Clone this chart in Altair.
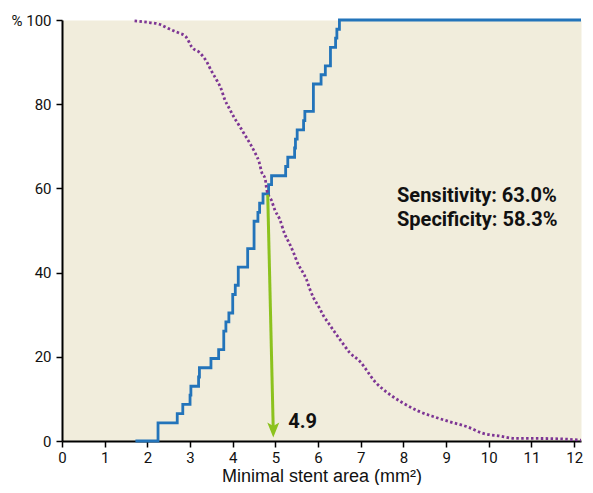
import altair as alt
import pandas as pd

# Sensitivity (blue step curve): x = cutoff (mm2), y = %
sens_x = [1.72, 2.25, 2.70, 2.83, 3.00, 3.02, 3.20, 3.22, 3.49, 3.67, 3.79, 3.84, 3.91,
          4.00, 4.06, 4.13, 4.35, 4.50, 4.59, 4.63, 4.71, 4.84, 4.91, 5.24, 5.29, 5.45,
          5.47, 5.51, 5.66, 5.69, 5.89, 6.07, 6.17, 6.29, 6.41, 6.44, 6.50, 12.16]
sens_y = [0.0, 4.3, 6.5, 8.7, 10.9, 13.0, 15.2, 17.4, 19.6, 21.7, 26.1, 28.3, 30.4,
          34.8, 37.0, 41.3, 45.7, 52.2, 54.3, 56.5, 58.7, 60.9, 63.0, 65.2, 67.4, 69.6,
          71.7, 73.9, 76.1, 78.3, 84.8, 87.0, 89.1, 93.5, 95.7, 97.8, 100.0, 100.0]

# Specificity (purple dotted curve)
spec_x = [1.70, 2.05, 2.28, 2.51, 2.74, 2.89, 2.97, 3.04, 3.23, 3.39, 3.50, 3.62, 3.73,
          3.81, 3.92, 4.03, 4.16, 4.29, 4.42, 4.53, 4.62, 4.68, 4.76, 4.80, 4.91, 4.99,
          5.10, 5.22, 5.33, 5.43, 5.52, 5.64, 5.73, 5.81, 5.90, 6.02, 6.13, 6.25, 6.40,
          6.57, 6.74, 6.97, 7.35, 7.66, 7.96, 8.35, 8.73, 9.11, 9.49, 9.87, 10.25, 10.63,
          11.17, 11.70, 12.16]
spec_y = [99.8, 99.4, 99.0, 97.9, 96.9, 96.2, 94.9, 93.6, 92.2, 90.1, 87.9, 85.8, 83.6,
          81.2, 79.0, 76.9, 74.8, 72.6, 70.4, 68.3, 66.2, 63.8, 62.3, 59.5, 57.1, 54.8,
          52.7, 49.1, 46.9, 44.6, 42.3, 40.1, 38.3, 36.0, 33.9, 31.8, 29.7, 27.9, 25.7,
          23.3, 21.0, 19.0, 13.9, 11.2, 9.2, 7.1, 5.7, 4.5, 3.4, 1.8, 1.2, 0.6,
          0.6, 0.5, 0.2]

# Cutoff arrow
arrow_x = [4.82, 4.95]
arrow_y = [58.5, 2.6]

x_ticks = list(range(0, 13))
y_ticks = [0, 20, 40, 60, 80, 100]

labels_text = ["Sensitivity: 63.0%", "Specificity: 58.3%"]
labels_x = [7.85, 7.85]
labels_y = [58.2, 52.4]

cut_label = ["4.9"]
cut_label_x = [5.3]
cut_label_y = [4.6]

LABEL_FONT = "Roboto"

sens_df = pd.DataFrame({"x": sens_x, "y": sens_y})
spec_df = pd.DataFrame({"x": spec_x, "y": spec_y})
arrow_df = pd.DataFrame({"x": arrow_x, "y": arrow_y})
head_df = pd.DataFrame({"x": [arrow_x[-1]], "y": [arrow_y[-1]]})
lab_df = pd.DataFrame({"x": labels_x, "y": labels_y, "t": labels_text})
cut_df = pd.DataFrame({"x": cut_label_x, "y": cut_label_y, "t": cut_label})

xscale = alt.Scale(domain=[0, 12.16], nice=False, zero=False)
yscale = alt.Scale(domain=[0, 100], nice=False)

xenc = alt.X("x:Q", scale=xscale, axis=alt.Axis(
    values=x_ticks, title="Minimal stent area (mm²)", grid=False,
    domainColor="black", domainWidth=2, tickColor="black", tickWidth=1.5, tickSize=6,
    labelFont=LABEL_FONT, labelFontSize=15, labelColor="#111", labelPadding=3,
    labelFlush=False, labelOverlap=False,
    titleFont="Liberation Sans", titleFontSize=18, titleFontWeight="normal",
    titleColor="#111", titlePadding=2))
yenc = alt.Y("y:Q", scale=yscale, axis=alt.Axis(
    values=y_ticks, title=None, grid=False,
    domainColor="black", domainWidth=2, tickColor="black", tickWidth=1.5, tickSize=6,
    labelFont=LABEL_FONT, labelFontSize=15, labelColor="#111", labelPadding=5,
    labelFlush=False,
    labelExpr="datum.value == 100 ? '% 100' : datum.label"))

sens = alt.Chart(sens_df).mark_line(
    interpolate="step-after", color="#2374BA", strokeWidth=2.8
).encode(x=xenc, y=yenc)

spec = alt.Chart(spec_df).mark_line(
    interpolate="monotone", color="#7D3594", strokeWidth=2.8, strokeDash=[2.5, 2.4]
).encode(x="x:Q", y="y:Q")

arrow = alt.Chart(arrow_df).mark_line(color="#8CC21E", strokeWidth=3).encode(x="x:Q", y="y:Q")
head = alt.Chart(head_df).mark_point(
    shape="M -0.8 -1 L 0 1 L 0.8 -1 L 0 -0.55 Z", filled=True, size=225,
    color="#8CC21E", opacity=1
).encode(x="x:Q", y="y:Q")

labs = alt.Chart(lab_df).mark_text(
    align="left", baseline="middle", font=LABEL_FONT, fontSize=20, fontWeight="bold",
    color="#111"
).encode(x="x:Q", y="y:Q", text="t:N")

cut = alt.Chart(cut_df).mark_text(
    align="left", baseline="middle", font=LABEL_FONT, fontSize=20, fontWeight="bold",
    color="#111"
).encode(x="x:Q", y="y:Q", text="t:N")

chart = alt.layer(sens, spec, arrow, head, labs, cut).properties(
    width=519, height=421,
    autosize=alt.AutoSizeParams(type="none"),
    padding={"left": 54, "top": 12, "right": 4, "bottom": 44},
    background="white",
).configure_view(fill="#F1EDDC", stroke="transparent")

chart.save("out.html", embed_options={"renderer": "svg", "actions": False})
